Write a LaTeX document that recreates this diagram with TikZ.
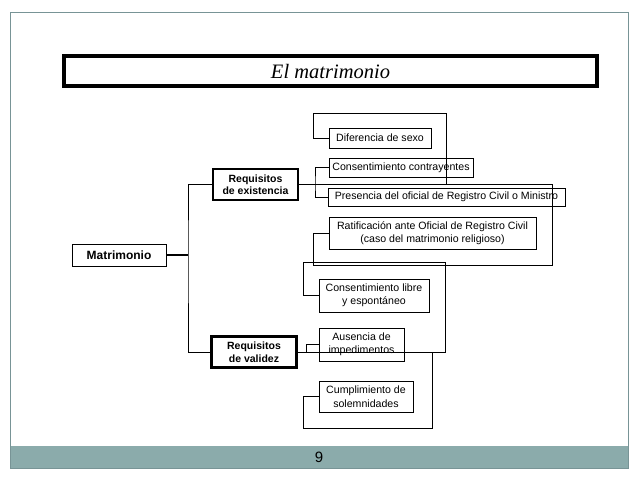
\documentclass[tikz,border=0pt]{standalone}
\usepackage{fontspec}
\setmainfont{Liberation Sans}
\newfontfamily\titlefont{Liberation Serif}
\definecolor{footer}{RGB}{139,171,171}
\definecolor{framegray}{RGB}{120,148,150}
\begin{document}
\begin{tikzpicture}[x=1pt,y=-1pt,
  box/.style={draw, line width=0.8pt, inner sep=0pt, align=center,
    font=\fontsize{10.6}{13.5}\selectfont},
  reqbox/.style={box, line width=2.2pt, font=\bfseries\fontsize{10.5}{12.5}\selectfont},
  conn/.style={line width=0.8pt}]
\useasboundingbox (0,0) rectangle (638,479);
% slide frame and footer
\fill[footer] (10,446) rectangle (628,468);
\draw[framegray, line width=0.8pt] (10,12) rectangle (628,468);
\node[font=\fontsize{15}{18}\selectfont] (pg) at (319,457) {9};
% title
\node[draw, line width=4pt, minimum width=533pt, minimum height=30pt, inner sep=0pt,
  font=\titlefont\itshape\fontsize{20.5}{24}\selectfont] (title) at (330.5,71) {El matrimonio};
% nodes
\node[box, minimum width=94pt, minimum height=22pt, font=\bfseries\fontsize{12}{14}\selectfont] (mat) at (119,255) {Matrimonio};
\node[reqbox, minimum width=85pt, minimum height=31pt] (re) at (255.5,184.5) {Requisitos\\de existencia};
\node[reqbox, minimum width=85pt, minimum height=31pt] (rv) at (254,352) {Requisitos\\de validez};
\node[box, minimum width=102pt, minimum height=20pt] (dif) at (380,138) {Diferencia de sexo};
\node[box, minimum width=144pt, minimum height=19pt] (con) at (401,167.5) {Consentimiento contrayentes};
\node[box, minimum width=237pt, minimum height=18pt] (pre) at (446.5,197) {Presencia del oficial de Registro Civil o Ministro};
\node[box, minimum width=207pt, minimum height=32pt] (rat) at (432.5,233) {Ratificación ante Oficial de Registro Civil\\(caso del matrimonio religioso)};
\node[box, minimum width=110pt, minimum height=33pt] (cl) at (374,295.5) {Consentimiento libre\\y espontáneo};
\node[box, minimum width=85pt, minimum height=33pt] (aus) at (361.5,344.5) {Ausencia de\\impedimentos};
\node[box, minimum width=94pt, minimum height=31pt] (cum) at (366,396.5) {Cumplimiento de\\solemnidades};
% connector corners
\coordinate (trunk) at (188,255);
\coordinate (ea) at (552,184.5);
\coordinate (eb) at (313,265);
\coordinate (da) at (446,184.5);
\coordinate (db) at (313,113);
\coordinate (cb) at (315,184.5);
\coordinate (va) at (445,352);
\coordinate (vb) at (303,262);
\coordinate (ab) at (306,352);
\coordinate (ca) at (432,352);
\coordinate (cc) at (303,428);
% connectors
\draw[line width=2.6pt] (mat.east) -- (trunk);
\draw[conn] (re.west) -| (trunk) |- (rv.west);
\draw[conn] (re.east) -- (ea) |- (eb) |- (rat.west);
\draw[conn] (da) |- (db) |- (dif.west);
\draw[conn] (con.west) -| (cb) |- (pre.west);
\draw[conn] (rv.east) -- (va) |- (vb) |- (cl.west);
\draw[conn] (ab) |- (aus.west);
\draw[conn] (ca) |- (cc) |- (cum.west);
\end{tikzpicture}
\end{document}
